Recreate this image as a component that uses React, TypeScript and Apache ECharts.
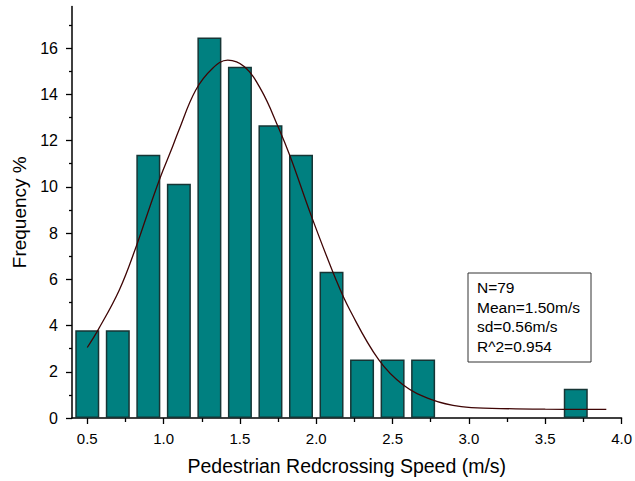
import React, { useEffect, useRef } from "react";
import * as echarts from "echarts";

// Histogram bins (bin centre, m/s) and frequency (%)
const binCenters = [0.5, 0.7, 0.9, 1.1, 1.3, 1.5, 1.7, 1.9, 2.1, 2.3, 2.5, 2.7, 3.7];
const frequencies = [3.80, 3.80, 11.39, 10.13, 16.46, 15.19, 12.66, 11.39, 6.33, 2.53, 2.53, 2.53, 1.27];

// Fitted curve points
const curveX = [0.50, 0.57, 0.71, 0.82, 0.91, 0.98, 1.05, 1.10, 1.21, 1.32, 1.42, 1.53, 1.64, 1.75, 1.83, 1.97, 2.13, 2.22, 2.41, 2.57, 2.76, 2.95, 3.15, 3.50, 3.90];
const curveY = [3.05, 3.80, 5.54, 7.41, 9.14, 10.44, 11.59, 12.45, 14.18, 15.12, 15.48, 15.19, 14.18, 12.60, 11.30, 8.70, 5.97, 4.67, 2.51, 1.43, 0.78, 0.49, 0.42, 0.38, 0.37];

// Tick values
const xMajorTicks = [0.5, 1.0, 1.5, 2.0, 2.5, 3.0, 3.5, 4.0];
const xMinorTicks = [0.75, 1.25, 1.75, 2.25, 2.75, 3.25, 3.75];
const yMajorTicks = [0, 2, 4, 6, 8, 10, 12, 14, 16];
const yMinorTicks = [1, 3, 5, 7, 9, 11, 13, 15, 17];

const statsLines = ["N=79", "Mean=1.50m/s", "sd=0.56m/s", "R^2=0.954"];

const xTitle = "Pedestrian Redcrossing Speed (m/s)";
const yTitle = "Frequency %";

const FONT = "'Liberation Sans', Arial, sans-serif";

export default function App() {
  const ref = useRef<HTMLDivElement>(null);

  useEffect(() => {
    if (!ref.current) return;
    const chart = echarts.init(ref.current, undefined, { renderer: "svg" });
    const xMin = 0.4, xMax = 4.0, yMin = 0, yMax = 17.8;
    const axisLine = { show: true, lineStyle: { color: "#000", width: 1.5 } };

    chart.setOption({
      animation: false,
      backgroundColor: "#fff",
      textStyle: { fontFamily: FONT },
      grid: { left: 72, right: 8, top: 6.5, bottom: 63, containLabel: false },
      xAxis: [
        {
          type: "value",
          min: xMin,
          max: xMax,
          position: "bottom",
          axisLine,
          splitLine: { show: false },
          axisTick: { show: true, customValues: xMajorTicks, length: 6, lineStyle: { color: "#000", width: 1.3 } },
          axisLabel: {
            show: true,
            customValues: xMajorTicks,
            margin: 13,
            fontSize: 15,
            color: "#000",
            fontFamily: FONT,
            formatter: (v: number) => v.toFixed(1),
          },
          name: xTitle,
          nameLocation: "middle",
          nameGap: 38,
          nameTextStyle: { fontSize: 19.5, color: "#000", fontFamily: FONT },
        },
        {
          type: "value",
          min: xMin,
          max: xMax,
          position: "bottom",
          axisLine: { show: false },
          splitLine: { show: false },
          axisLabel: { show: false },
          axisTick: { show: true, customValues: xMinorTicks, length: 4, lineStyle: { color: "#000", width: 1.3 } },
        },
      ],
      yAxis: [
        {
          type: "value",
          min: yMin,
          max: yMax,
          position: "left",
          axisLine,
          splitLine: { show: false },
          axisTick: { show: true, customValues: yMajorTicks, length: 6, lineStyle: { color: "#000", width: 1.3 } },
          axisLabel: {
            show: true,
            customValues: yMajorTicks,
            margin: 14,
            fontSize: 16,
            color: "#000",
            fontFamily: FONT,
          },
          name: yTitle,
          nameLocation: "middle",
          nameGap: 38,
          nameTextStyle: { fontSize: 19, color: "#000", fontFamily: FONT },
        },
        {
          type: "value",
          min: yMin,
          max: yMax,
          position: "left",
          axisLine: { show: false },
          splitLine: { show: false },
          axisLabel: { show: false },
          axisTick: { show: true, customValues: yMinorTicks, length: 3, lineStyle: { color: "#000", width: 1.3 } },
        },
      ],
      series: [
        {
          type: "bar",
          xAxisIndex: 0,
          yAxisIndex: 0,
          barWidth: 24,
          data: binCenters.map((x, i) => [x, frequencies[i]]),
          itemStyle: { color: "#008080", borderColor: "#163535", borderWidth: 1.5 },
          silent: true,
        },
        {
          type: "line",
          xAxisIndex: 0,
          yAxisIndex: 0,
          data: curveX.map((x, i) => [x, curveY[i]]),
          smooth: 0.4,
          showSymbol: false,
          symbol: "none",
          lineStyle: { color: "#3f0505", width: 1.3 },
          silent: true,
          z: 5,
        },
      ],
      graphic: [
        {
          type: "rect",
          shape: { x: 468, y: 273, width: 123, height: 89 },
          style: { fill: "#fff", stroke: "#333", lineWidth: 1 },
          z: 10,
        },
        {
          type: "text",
          x: 477,
          y: 278,
          style: {
            text: statsLines.join("\n"),
            font: `15.5px ${FONT}`,
            lineHeight: 19.5,
            fill: "#000",
            textVerticalAlign: "top",
          },
          z: 11,
        },
      ],
    });
    return () => chart.dispose();
  }, []);

  return (
    <div
      ref={ref}
      style={{ position: "absolute", left: 0, top: 0, width: 635, height: 481 }}
    />
  );
}
